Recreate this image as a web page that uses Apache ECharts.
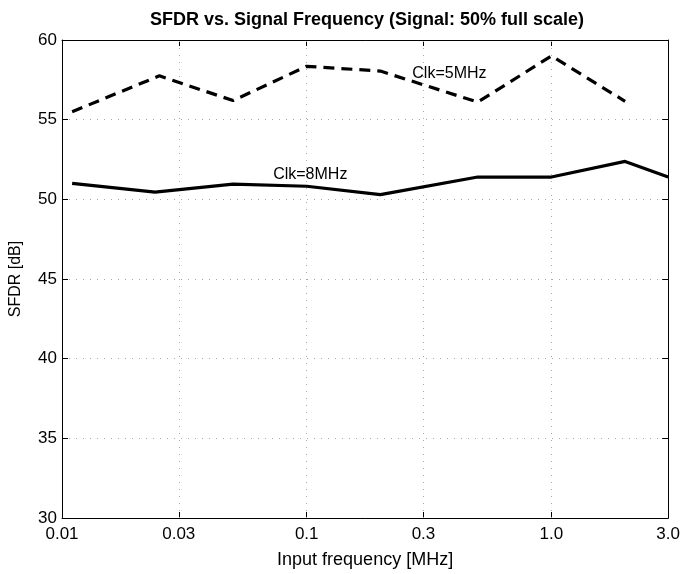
<!DOCTYPE html>
<html>
<head>
<meta charset="utf-8">
<script src="https://cdn.jsdelivr.net/npm/echarts@6/dist/echarts.min.js"></script>
<style>
  html, body { margin: 0; padding: 0; background: #fff; }
  #chart { width: 683px; height: 574px; }
</style>
</head>
<body>
<div id="chart"></div>
<script>
// Input frequency in MHz and measured SFDR in dB
const freqClk8 = [0.011, 0.024, 0.05, 0.1, 0.2, 0.5, 1.0, 2.0, 3.0];
const sfdrClk8 = [51.0, 50.45, 50.95, 50.82, 50.3, 51.4, 51.4, 52.38, 51.4];
const freqClk5 = [0.011, 0.025, 0.05, 0.1, 0.2, 0.5, 1.0, 2.0];
const sfdrClk5 = [55.5, 57.75, 56.2, 58.35, 58.05, 56.1, 59.0, 56.15];

// Log-axis tick positions and their printed labels
const xTickValues = [0.01, 0.03, 0.1, 0.3, 1, 3];
const xTickLabels = ['0.01', '0.03', '0.1', '0.3', '1.0', '3.0'];
const xGridValues = [0.03, 0.1, 0.3, 1];

// Curve annotations: [label, frequency, dB]
const annotations = [
  ['Clk=5MHz', 0.383, 57.9],
  ['Clk=8MHz', 0.1034, 51.55]
];

const FONT = 'Liberation Sans';
const pairs = (xs, ys) => xs.map((x, i) => [x, ys[i]]);
const labelFor = v => {
  const i = xTickValues.findIndex(t => Math.abs(t - v) / t < 1e-6);
  return i >= 0 ? xTickLabels[i] : '';
};

const chart = echarts.init(document.getElementById('chart'), null, { renderer: 'canvas' });

const gridLine = { color: '#a8a8a8', width: 1, type: [1, 6] };

const logAxisBase = {
  type: 'log',
  logBase: 10,
  min: 0.01,
  max: 3,
  axisLine: { show: true, onZero: false, lineStyle: { color: '#000', width: 1 } },
  axisTick: { show: true, inside: true, length: 6, customValues: xTickValues, lineStyle: { color: '#000' } },
  minorTick: { show: false },
  minorSplitLine: { show: false },
  splitLine: { show: false }
};

chart.setOption({
  animation: false,
  backgroundColor: '#fff',
  title: {
    text: 'SFDR vs. Signal Frequency (Signal: 50% full scale)',
    left: 362, top: 6, textAlign: 'center',
    textStyle: { fontFamily: FONT, fontSize: 18, fontWeight: 'bold', color: '#000' }
  },
  grid: { left: 54, right: 14, top: 40, bottom: 46, containLabel: false },
  xAxis: [
    Object.assign({}, logAxisBase, {
      position: 'bottom',
      name: 'Input frequency [MHz]',
      nameLocation: 'middle',
      nameGap: 33,
      nameTextStyle: { fontFamily: FONT, fontSize: 18, color: '#000' },
      axisLabel: {
        show: true, customValues: xTickValues, margin: 8,
        fontFamily: FONT, fontSize: 17, color: '#000',
        formatter: v => labelFor(v)
      }
    }),
    Object.assign({}, logAxisBase, {
      position: 'top',
      axisLabel: { show: false }
    })
  ],
  yAxis: [
    {
      type: 'value', min: 30, max: 60, interval: 5, position: 'left',
      name: 'SFDR [dB]', nameLocation: 'middle', nameGap: 38,
      nameTextStyle: { fontFamily: FONT, fontSize: 16, color: '#000' },
      axisLine: { show: true, onZero: false, lineStyle: { color: '#000', width: 1 } },
      axisTick: { show: true, inside: true, length: 6, lineStyle: { color: '#000' } },
      axisLabel: { fontFamily: FONT, fontSize: 17, color: '#000', margin: 5 },
      splitLine: { show: true, lineStyle: gridLine }
    },
    {
      type: 'value', min: 30, max: 60, interval: 5, position: 'right',
      axisLine: { show: true, onZero: false, lineStyle: { color: '#000', width: 1 } },
      axisTick: { show: true, inside: true, length: 6, lineStyle: { color: '#000' } },
      axisLabel: { show: false },
      splitLine: { show: false }
    }
  ],
  series: [
    {
      name: 'Clk=8MHz',
      type: 'line',
      data: pairs(freqClk8, sfdrClk8),
      showSymbol: false,
      lineStyle: { color: '#000', width: 3.2 },
      z: 5,
      markLine: {
        silent: true, symbol: 'none', animation: false,
        label: { show: false },
        lineStyle: gridLine,
        data: xGridValues.map(v => ({ xAxis: v }))
      },
      markPoint: {
        symbol: 'rect', symbolSize: 1,
        itemStyle: { color: 'rgba(0,0,0,0)' },
        label: { show: true, position: 'inside', fontFamily: FONT, fontSize: 16, color: '#000', formatter: p => p.name },
        data: annotations.slice(1).map(a => ({ name: a[0], coord: [a[1], a[2]] }))
      }
    },
    {
      name: 'Clk=5MHz',
      type: 'line',
      data: pairs(freqClk5, sfdrClk5),
      showSymbol: false,
      lineStyle: { color: '#000', width: 3.2, type: [11, 7] },
      z: 5,
      markPoint: {
        symbol: 'rect', symbolSize: 1,
        itemStyle: { color: 'rgba(0,0,0,0)' },
        label: { show: true, position: 'inside', fontFamily: FONT, fontSize: 16, color: '#000', formatter: p => p.name },
        data: annotations.slice(0, 1).map(a => ({ name: a[0], coord: [a[1], a[2]] }))
      }
    }
  ]
});
</script>
</body>
</html>
